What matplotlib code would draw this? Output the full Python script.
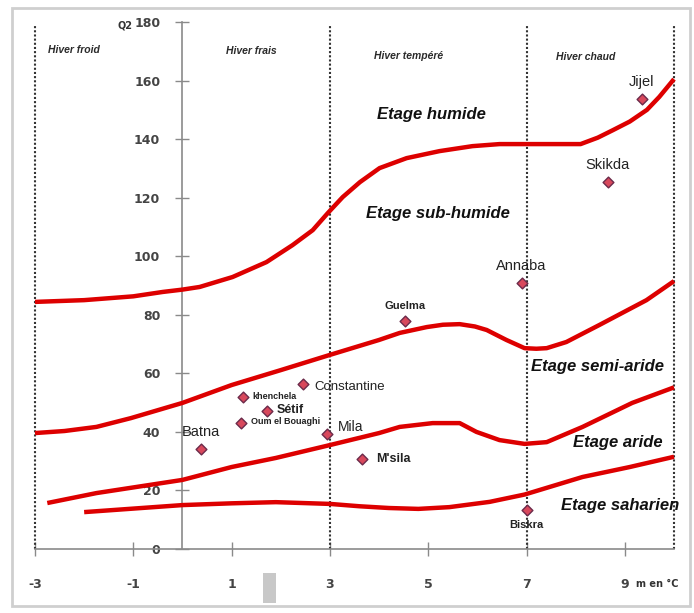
import matplotlib
matplotlib.use("Agg")
import matplotlib.pyplot as plt
from matplotlib.patches import Rectangle

# ---------------- data ----------------
# Emberger climagram boundaries (x = m en °C, y = Q2)
humide_x = [-3, -2, -1, -0.4, 0, 0.35, 1.02, 1.71, 2.24, 2.65, 2.96, 3.26, 3.61, 4.01, 4.56,
            5.23, 5.9, 6.45, 7.0, 8.1, 8.45, 8.75, 9.1, 9.45, 9.7, 10.0]
humide_y = [84.4, 85.0, 86.3, 87.8, 88.6, 89.5, 92.9, 98.0, 103.8, 108.9, 114.8, 120.2, 125.3, 130.1, 133.5,
            135.9, 137.6, 138.3, 138.3, 138.3, 140.5, 143.0, 146.0, 150.0, 154.4, 160.5]

subhum_x = [-3, -2.4, -1.75, -1.05, 0, 1.0, 2.0, 3.0, 4.0, 4.42, 4.97, 5.3, 5.64, 5.95, 6.19,
            6.59, 6.96, 7.2, 7.41, 7.81, 8.48, 9.44, 10.0]
subhum_y = [39.6, 40.3, 41.7, 44.7, 49.9, 56.0, 61.1, 66.3, 71.4, 73.8, 75.8, 76.6, 76.8, 76.0, 74.8,
            71.4, 68.6, 68.4, 68.6, 70.7, 76.5, 85.0, 91.5]

semiar_x = [-2.75, -1.75, 0, 1.0, 1.9, 3.0, 4.0, 4.42, 5.09, 5.64, 5.98, 6.45, 6.96, 7.41,
            8.14, 9.15, 10.0]
semiar_y = [15.7, 19.1, 23.6, 28.0, 31.1, 35.5, 39.6, 41.7, 43.0, 43.0, 40.0, 37.2, 35.9, 36.5,
            41.7, 49.9, 55.2]

aride_x = [-2.0, -1.0, 0, 1.0, 1.9, 3.0, 3.6, 4.2, 4.8, 5.43, 6.25, 6.96, 8.14, 9.1, 10.0]
aride_y = [12.6, 13.8, 15.0, 15.6, 16.0, 15.4, 14.6, 14.0, 13.7, 14.3, 16.1, 18.6, 24.6, 28.0, 31.5]

stations = ["Jijel", "Skikda", "Annaba", "Guelma", "Constantine", "khenchela",
            "Sétif", "Oum el Bouaghi", "Mila", "Batna", "M'sila", "Biskra"]
station_m = [9.34, 8.65, 6.9, 4.52, 2.45, 1.23, 1.72, 1.19, 2.94, 0.37, 3.65, 7.0]
station_q2 = [153.7, 125.3, 90.8, 77.9, 56.4, 52.0, 47.1, 43.0, 39.3, 34.2, 30.7, 13.3]

x_ticks = [-3, -1, 1, 3, 5, 7, 9]
x_ticklabels = ["-3", "-1", "1", "3", "5", "7", "9"]
y_ticks = [0, 20, 40, 60, 80, 100, 120, 140, 160, 180]
winter_bounds = [-3, 3, 7, 10]
winter_labels = ["Hiver froid", "Hiver frais", "Hiver tempéré", "Hiver chaud"]
etage_labels = ["Etage humide", "Etage sub-humide", "Etage semi-aride", "Etage aride", "Etage saharien"]

# ---------------- figure ----------------
W, H = 694, 613
fig = plt.figure(figsize=(W / 100, H / 100), dpi=100)
fig.patch.set_facecolor("white")

def fx(px):
    return px / W

def fy(py):
    return 1 - py / H

# outer frame
fig.patches.append(Rectangle((fx(12), fy(606)), fx(678), 598 / H, transform=fig.transFigure,
                             fill=False, edgecolor="#cfcfcf", linewidth=2.0))
# small grey artefact rectangle
fig.patches.append(Rectangle((fx(263), fy(603)), fx(13), 30 / H, transform=fig.transFigure,
                             facecolor="#c8c8c8", edgecolor="none"))

ax = fig.add_axes([fx(35), fy(549), fx(674 - 35), (549 - 22) / H])
ax.set_xlim(-3, 10)
ax.set_ylim(0, 180)
ax.set_facecolor("none")

for s in ["top", "right"]:
    ax.spines[s].set_visible(False)
ax.spines["left"].set_position(("data", 0))
ax.spines["bottom"].set_position(("data", 0))
ax.spines["left"].set_color("#8a8a8a")
ax.spines["bottom"].set_color("#8a8a8a")
ax.spines["left"].set_linewidth(1.2)
ax.spines["bottom"].set_linewidth(1.2)

ax.set_xticks(x_ticks)
ax.set_xticklabels(x_ticklabels)
ax.set_yticks(y_ticks)
ax.tick_params(axis="x", direction="inout", length=10, width=1, color="#8a8a8a",
               pad=16, labelsize=9, labelcolor="#444444")
ax.tick_params(axis="y", direction="inout", length=10, width=1, color="#8a8a8a",
               pad=11, labelsize=9, labelcolor="#444444")
for lab in ax.get_xticklabels() + ax.get_yticklabels():
    lab.set_fontweight("bold")

# dotted winter boundaries
for xb in winter_bounds:
    ax.plot([xb, xb], [0, 178.5], linestyle=(0, (1, 1)), color="#333333", linewidth=1.5,
            zorder=2, clip_on=False)

# boundary curves
red = "#dd0000"
for xs, ys in [(humide_x, humide_y), (subhum_x, subhum_y), (semiar_x, semiar_y), (aride_x, aride_y)]:
    ax.plot(xs, ys, color=red, linewidth=3.2, solid_capstyle="butt", solid_joinstyle="round",
            zorder=3, clip_on=False)

# stations
ax.scatter(station_m, station_q2, marker="D", s=30, facecolor="#d8485c", edgecolor="#6b2a4a",
           linewidth=1.0, zorder=4)

lab_font = "Liberation Sans"
label_pos = {
    "Jijel": (0, 12, "center", 10.5, "normal"),
    "Skikda": (0, 12, "center", 10.5, "normal"),
    "Annaba": (0, 12, "center", 10.5, "normal"),
    "Guelma": (0, 11, "center", 8, "bold"),
    "Constantine": (8, -2, "left", 9.5, "normal"),
    "khenchela": (7, 0, "left", 6.5, "bold"),
    "Sétif": (7, 1, "left", 9, "bold"),
    "Oum el Bouaghi": (7, 1, "left", 6.5, "bold"),
    "Mila": (8, 5, "left", 10, "normal"),
    "Batna": (0, 12, "center", 10.5, "normal"),
    "M'sila": (10, 0, "left", 9, "bold"),
    "Biskra": (0, -11, "center", 8, "bold"),
}
for name, m, q in zip(stations, station_m, station_q2):
    dx, dy, ha, fs, fw = label_pos[name]
    ax.annotate(name, (m, q), xytext=(dx, dy), textcoords="offset points", ha=ha, va="center",
                fontsize=fs, fontweight=fw, family=lab_font, color="#222222", zorder=5)

# winter labels
winter_pos = [(-2.2, 170.5), (1.4, 170), (4.6, 168.5), (8.2, 168)]
for (wx, wy), t in zip(winter_pos, winter_labels):
    ax.text(wx, wy, t, fontsize=7.5, fontstyle="italic", fontweight="bold", family=lab_font,
            color="#2a2a2a", ha="center", va="center")

# étage labels
etage_pos = [(5.06, 148.5), (5.2, 114.5), (8.45, 62.5), (8.85, 36.5), (8.9, 15)]
for (ex, ey), t in zip(etage_pos, etage_labels):
    ax.text(ex, ey, t, fontsize=12, fontstyle="italic", fontweight="bold", family=lab_font,
            color="#111111", ha="center", va="center", zorder=5)

# axis captions
fig.text(fx(125), fy(25), "Q2", fontsize=7, fontweight="bold", color="#333333",
         ha="center", va="center")
fig.text(fx(657), fy(584), "m en °C", fontsize=7, fontweight="bold", color="#333333",
         ha="center", va="center")

fig.savefig("out.png", dpi=100, facecolor="white")
